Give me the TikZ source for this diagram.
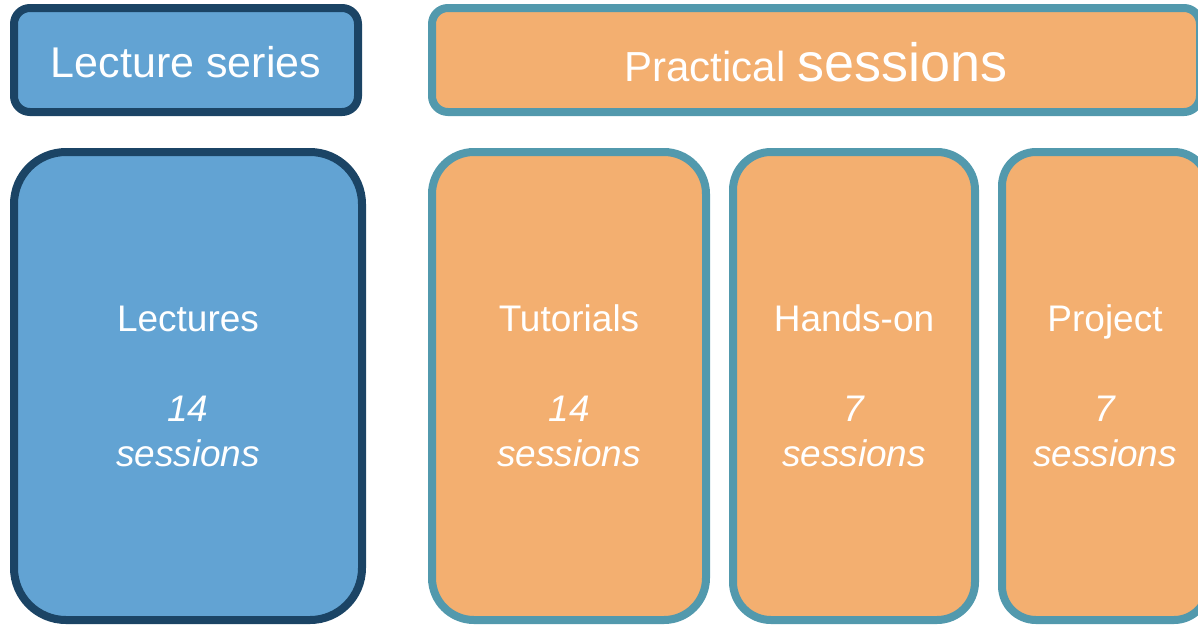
\documentclass[tikz,border=0pt]{standalone}
\usepackage{fontspec}
\setmainfont{Liberation Sans}
\usepackage{tikz}
\usetikzlibrary{positioning}
\definecolor{lecfill}{RGB}{98,163,211}
\definecolor{lecline}{RGB}{27,68,101}
\definecolor{pracfill}{RGB}{243,175,112}
\definecolor{pracline}{RGB}{82,153,173}
\tikzset{
  box/.style = {align=center, inner sep=0pt, text centered, text=white,
    line width=8pt, font=\fontsize{37}{45}\selectfont},
  lec_h/.style = {box, rectangle, draw=lecline, fill=lecfill,
    rounded corners=16pt, font=\fontsize{43}{50}\selectfont},% lecture header
  lec_b/.style = {box, rectangle, draw=lecline, fill=lecfill},% lecture body
  prac_h/.style = {box, rectangle, draw=pracline, fill=pracfill,
    rounded corners=16pt, font=\fontsize{42}{50}\selectfont},% practical header
  prac_b/.style = {box, rectangle, draw=pracline, fill=pracfill},% practical body
    }

\begin{document}
\begin{tikzpicture}[x=1pt,y=-1pt]
  \useasboundingbox (0,0) rectangle (1198,625);

  % headers
  \node[lec_h, minimum width=344pt, minimum height=104pt] (lseries) at (186,60)
    {\raisebox{-2pt}[\height][\depth]{Lecture series}};
  \node[prac_h, minimum width=768pt, minimum height=104pt] (pract) at (816,60)
    {\raisebox{-2pt}[\height][\depth]{Practical {\fontsize{54}{60}\selectfont sessions}}};

  % bodies
  \node[lec_b, rounded corners=52pt, minimum width=348pt, minimum height=468pt] (lect) at (188,386)
    {Lectures\\[45pt]\textit{14}\\\textit{sessions}};
  \node[prac_b, rounded corners=42pt, minimum width=274pt, minimum height=468pt] (tut) at (569,386)
    {Tutorials\\[45pt]\textit{14}\\\textit{sessions}};
  \node[prac_b, rounded corners=38pt, minimum width=242pt, minimum height=468pt] (hands) at (854,386)
    {Hands-on\\[45pt]\textit{7}\\\textit{sessions}};
  \node[prac_b, rounded corners=34pt, minimum width=206pt, minimum height=468pt] (proj) at (1105,386)
    {Project\\[45pt]\textit{7}\\\textit{sessions}};
  \end{tikzpicture}
\end{document}
